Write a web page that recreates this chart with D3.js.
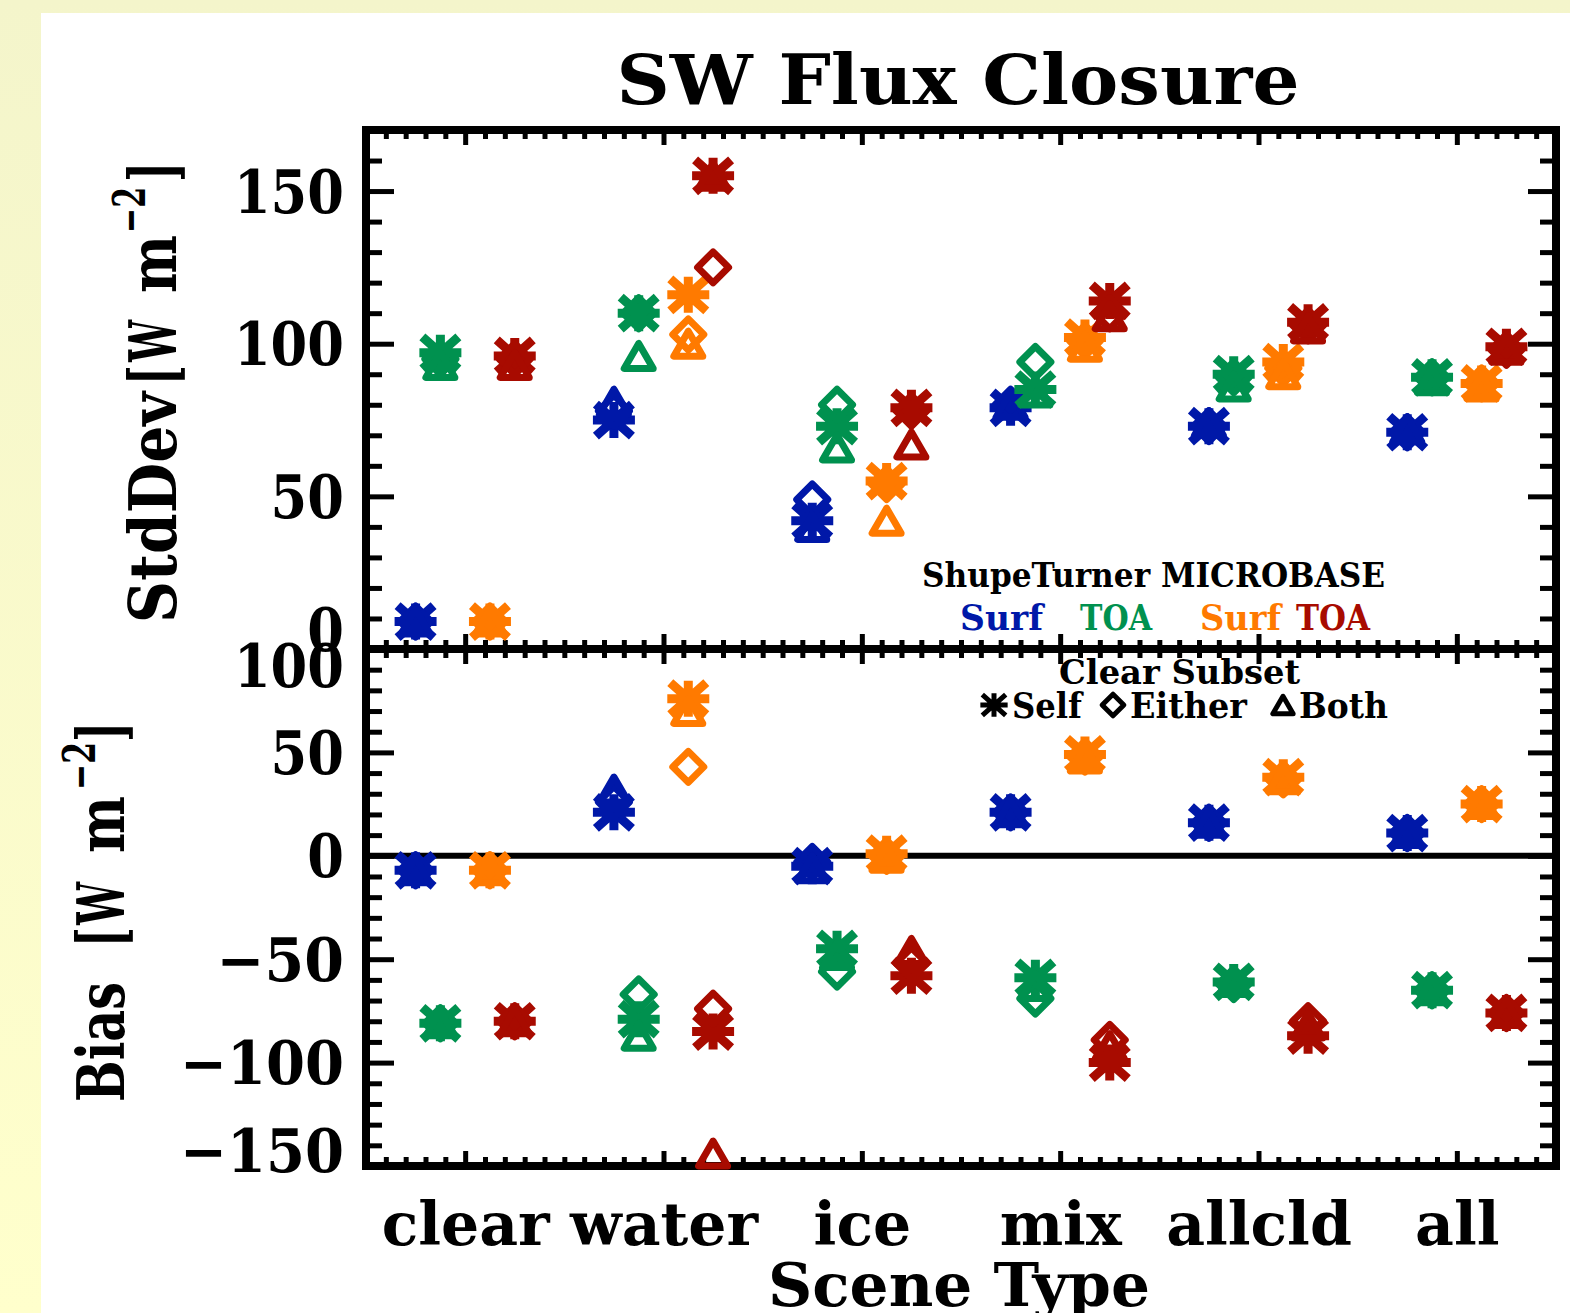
<!DOCTYPE html>
<html><head><meta charset="utf-8">
<script src="https://cdnjs.cloudflare.com/ajax/libs/d3/7.8.5/d3.min.js"></script>
<style>html,body{margin:0;padding:0;background:#fff}svg{display:block}</style>
</head><body>
<svg id="chart" width="1570" height="1313"></svg>
<script>
// ---------------- data ----------------
const categories = ["clear", "water", "ice", "mix", "allcld", "all"];
const seriesGroups = ["ShupeTurner", "MICROBASE"];
const seriesLabels = ["Surf", "TOA", "Surf", "TOA"];
const seriesColors = ["#0018a8", "#00914f", "#ff7a00", "#a80b00"];
const subsetLabels = ["Self", "Either", "Both"];
const stdTicks = [0, 50, 100, 150];
const biasTicks = [-150, -100, -50, 0, 50, 100];

// rows: ShupeTurner Surf, ShupeTurner TOA, MICROBASE Surf, MICROBASE TOA ; cols: categories
const stdSelf = [
  [9, 75, 42, 79, 73, 71],
  [97, 110, 73, 85, 90, 89],
  [9, 116, 55, 102, 94, 87],
  [96, 155, 79, 114, 107, 99]
];
const stdEither = [
  [9, 78, 49, 80, 73, 71],
  [95, 110, 80, 94, 89, 89],
  [9, 103, 54, 101, 92, 87],
  [95, 125, 78, 110, 106, 98]
];
const stdBoth = [
  [9, 81, 40, 80, 74, 72],
  [93, 96, 66, 84, 86, 88],
  [9, 100, 42, 99, 90, 86],
  [93, 155, 67, 109, 105, 98]
];
const biasSelf = [
  [-7, 21, -5, 21, 16, 11],
  [-81, -79, -45, -59, -61, -65],
  [-7, 76, 1, 49, 38, 25],
  [-80, -85, -58, -100, -87, -76]
];
const biasEither = [
  [-7, 26, -3, 21, 16, 11],
  [-81, -67, -56, -69, -62, -65],
  [-7, 43, 0, 48, 37, 25],
  [-80, -74, -52, -89, -80, -76]
];
const biasBoth = [
  [-7, 32, -6, 21, 16, 11],
  [-81, -87, -48, -63, -61, -65],
  [-7, 70, -1, 47, 37, 25],
  [-80, -144, -46, -92, -82, -76]
];

// ---------------- setup ----------------
const W = 1570, H = 1313;
const FONT = "'DejaVu Serif', 'Liberation Serif', serif";
const svg = d3.select("#chart");
const defs = svg.append("defs");
const grad = defs.append("linearGradient").attr("id", "bg").attr("x1", 0).attr("y1", 0).attr("x2", 0).attr("y2", 1);
grad.append("stop").attr("offset", "0%").attr("stop-color", "#f4f5cb");
grad.append("stop").attr("offset", "100%").attr("stop-color", "#ffffcc");
svg.append("rect").attr("width", W).attr("height", H).attr("fill", "url(#bg)");
svg.append("rect").attr("x", 41).attr("y", 13).attr("width", W - 41).attr("height", H - 13).attr("fill", "#fff");

const x = d3.scaleLinear().domain([0, 6]).range([366, 1556]);
const yTop = d3.scaleLinear().domain([0, 170]).range([649, 130]);
const yBot = d3.scaleLinear().domain([-150, 100]).range([1166, 649]);
const dodge = [-0.25, -0.125, 0.125, 0.25];

function txt(g, s, px, py, fs, len, opts = {}) {
  const t = g.append("text").attr("x", px).attr("y", py)
    .attr("font-family", FONT).attr("font-weight", "bold").attr("font-size", fs)
    .attr("fill", opts.fill || "#000").attr("text-anchor", opts.anchor || "start").text(s);
  if (len) t.attr("textLength", len).attr("lengthAdjust", "spacingAndGlyphs");
  return t;
}

const fmt = d => d < 0 ? "\u2212" + Math.abs(d) : String(d);
const labelLen = d => String(Math.abs(d)).length * 36.7 + (d < 0 ? 54 : 0);

// ---------------- axes ----------------
const axisLayer = svg.append("g");
function styleTicks(g, w) {
  g.select(".domain").remove();
  g.selectAll(".tick line").attr("stroke", "#000").attr("stroke-width", w);
}
function yAxes(yScale, ticks, shifts) {
  const [d0, d1] = yScale.domain();
  const minor = d3.range(d0, d1 + 0.001, 10).filter(v => !ticks.includes(v));
  const gL = axisLayer.append("g").attr("transform", `translate(${x.range()[0]},0)`)
    .call(d3.axisLeft(yScale).tickValues(ticks).tickSize(-28).tickPadding(22).tickFormat(fmt));
  styleTicks(gL, 5);
  gL.selectAll(".tick text")
    .attr("font-family", FONT).attr("font-weight", "bold").attr("font-size", 60).attr("fill", "#000")
    .attr("dy", "0.35em")
    .attr("y", d => shifts[d] || 0)
    .attr("textLength", d => labelLen(d)).attr("lengthAdjust", "spacingAndGlyphs");
  const gLm = axisLayer.append("g").attr("transform", `translate(${x.range()[0]},0)`)
    .call(d3.axisLeft(yScale).tickValues(minor).tickSize(-16).tickFormat(""));
  styleTicks(gLm, 5);
  const gR = axisLayer.append("g").attr("transform", `translate(${x.range()[1]},0)`)
    .call(d3.axisRight(yScale).tickValues(ticks).tickSize(-28).tickFormat(""));
  styleTicks(gR, 5);
  const gRm = axisLayer.append("g").attr("transform", `translate(${x.range()[1]},0)`)
    .call(d3.axisRight(yScale).tickValues(minor).tickSize(-16).tickFormat(""));
  styleTicks(gRm, 5);
}
yAxes(yTop, stdTicks, {0: -20});
yAxes(yBot, biasTicks, {100: 16, "-150": -16});

const xMajor = categories.map((c, i) => i + 0.5);
const xMinor = d3.range(1, 60).map(v => v / 10).filter(v => !xMajor.some(m => Math.abs(m - v) < 1e-6));
function xAxes(yPos, dir, withLabels) {
  const mk = dir === "top" ? d3.axisTop : d3.axisBottom;
  const g = axisLayer.append("g").attr("transform", `translate(0,${yPos})`)
    .call(mk(x).tickValues(xMajor).tickSize(-15).tickPadding(0)
      .tickFormat(withLabels ? ((d, i) => categories[i]) : ""));
  styleTicks(g, 5);
  const gm = axisLayer.append("g").attr("transform", `translate(0,${yPos})`)
    .call(mk(x).tickValues(xMinor).tickSize(-9).tickFormat(""));
  styleTicks(gm, 5);
  if (withLabels) {
    g.selectAll(".tick text")
      .attr("font-family", FONT).attr("font-weight", "bold").attr("font-size", 60).attr("fill", "#000")
      .attr("y", 1245 - yPos).attr("dy", 0);
  }
}
xAxes(yTop.range()[1], "top", false);
xAxes(yTop.range()[0], "bottom", false);
xAxes(yBot.range()[1], "top", false);
xAxes(yBot.range()[0], "bottom", true);

axisLayer.append("line").attr("x1", x.range()[0]).attr("x2", x.range()[1])
  .attr("y1", yBot(0)).attr("y2", yBot(0)).attr("stroke", "#000").attr("stroke-width", 6);

[[yTop.range()[1], yTop.range()[0]], [yBot.range()[1], yBot.range()[0]]].forEach(([t, b]) => {
  axisLayer.append("rect").attr("x", x.range()[0]).attr("y", t)
    .attr("width", x.range()[1] - x.range()[0]).attr("height", b - t)
    .attr("fill", "none").attr("stroke", "#000").attr("stroke-width", 8);
});

// ---------------- markers ----------------
function asteriskPath(s) {
  const r = 21 * s, rv = 18 * s, d = 18 * s, dv = 16 * s;
  return `M${-r},0L${r},0M0,${-rv}L0,${rv}M${-d},${-dv}L${d},${dv}M${-d},${dv}L${d},${-dv}`;
}
function diamondPath(s) {
  const r = 15.5 * s;
  return `M0,${-r}L${r},0L0,${r}L${-r},0Z`;
}
function trianglePath(s) {
  const r = 14.5 * s, h = 12.5 * s;
  return `M${-r},${h}L${r},${h}L0,${-h}Z`;
}
const shapes = [
  {path: asteriskPath, w: 9},
  {path: diamondPath, w: 7},
  {path: trianglePath, w: 7}
];

const markLayer = svg.append("g");
function drawPanel(yScale, sets) {
  seriesColors.forEach((col, s) => {
    sets.forEach((set, k) => {
      categories.forEach((c, i) => {
        const v = set[s][i];
        if (v == null) return;
        markLayer.append("path")
          .attr("transform", `translate(${x(i + 0.5 + dodge[s])},${yScale(v)})`)
          .attr("d", shapes[k].path(1))
          .attr("fill", "none").attr("stroke", col).attr("stroke-width", shapes[k].w)
          .attr("stroke-linejoin", "round");
      });
    });
  });
}
drawPanel(yTop, [stdSelf, stdEither, stdBoth]);
drawPanel(yBot, [biasSelf, biasEither, biasBoth]);

// ---------------- texts ----------------
const tl = svg.append("g");
txt(tl, "SW Flux Closure", 958, 104, 70, 683, {anchor: "middle"});
txt(tl, "Scene Type", 959, 1306, 60, 382, {anchor: "middle"});

const g1 = tl.append("g").attr("transform", "translate(176,623) rotate(-90)");
txt(g1, "StdDev", 0, 0, 66, 231);
txt(g1, "[", 238, 0, 66, 20);
txt(g1, "W", 261, 0, 66, 42);
txt(g1, "m", 330, 0, 66, 58);
txt(g1, "\u22122", 390, -31, 44, 46);
txt(g1, "]", 441, 0, 66, 20);

const g2 = tl.append("g").attr("transform", "translate(124,1102) rotate(-90)");
txt(g2, "Bias", 0, 0, 66, 120);
txt(g2, "[", 155, 0, 66, 20);
txt(g2, "W", 177, 0, 66, 43);
txt(g2, "m", 249, 0, 66, 57);
txt(g2, "\u22122", 312, -29, 44, 48);
txt(g2, "]", 360, 0, 66, 20);

txt(tl, seriesGroups.join(" "), 922, 587, 34, 463);
const legX = [[960, 83], [1080, 72], [1200, 81], [1296, 74]];
seriesLabels.forEach((s, i) => txt(tl, s, legX[i][0], 630, 36, legX[i][1], {fill: seriesColors[i]}));

txt(tl, "Clear Subset", 1059, 684, 34, 241);
const subX = [[994, 1012, 70], [1113, 1130, 117], [1283, 1299, 89]];
subsetLabels.forEach((s, k) => {
  const [cx, tx, tw] = subX[k];
  tl.append("path").attr("transform", `translate(${cx},705)`)
    .attr("d", shapes[k].path(k === 0 ? 0.65 : 0.7))
    .attr("fill", "none").attr("stroke", "#000").attr("stroke-width", 5).attr("stroke-linejoin", "round");
  txt(tl, s, tx, 718, 36, tw);
});
</script>
</body></html>
